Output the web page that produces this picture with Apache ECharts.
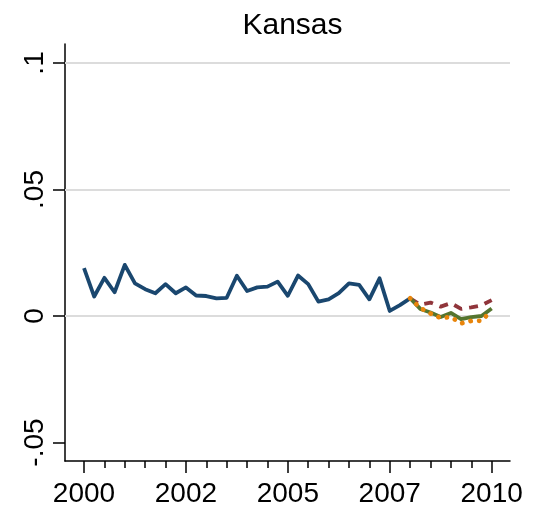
<!DOCTYPE html>
<html>
<head>
<meta charset="utf-8">
<script src="https://cdn.jsdelivr.net/npm/echarts@6/dist/echarts.min.js"></script>
<style>
  html, body { margin: 0; padding: 0; background: #fff; }
  #chart { width: 539px; height: 513px; }
</style>
</head>
<body>
<div id="chart"></div>
<script>
// Quarterly series for Kansas, 2000q1 .. 2010q1 (x = quarter index from 2000q1)
const observed = [
  0.0189, 0.0077, 0.0151, 0.0094, 0.0202, 0.0129, 0.0106, 0.0090,
  0.0126, 0.0090, 0.0113, 0.0081, 0.0079, 0.0070, 0.0072, 0.0159,
  0.0099, 0.0113, 0.0116, 0.0136, 0.0080, 0.0160, 0.0126, 0.0057,
  0.0066, 0.0090, 0.0129, 0.0123, 0.0066, 0.0149, 0.0020, 0.0043,
  0.0070
];
// Forecast paths start at the last observed quarter (index 32)
const forecastStart = 32;
const forecastDashed = [0.0070, 0.0045, 0.0053, 0.0037, 0.0051, 0.0028, 0.0034, 0.0042, 0.0063];
const forecastSolid  = [0.0070, 0.0028, 0.0014, -0.0004, 0.0012, -0.0012, -0.0004, 0.0000, 0.0030];
const forecastDotted = [0.0070, 0.0032, 0.0010, -0.0008, -0.0004, -0.0029, -0.0019, -0.0019, 0.0022];

// Axis ticks
const xMajorQuarters = [0, 10, 20, 30, 40];
const xMajorLabels = ['2000', '2002', '2005', '2007', '2010'];
const xMinorQuarters = [2, 4, 6, 8, 12, 14, 16, 18, 22, 24, 26, 28, 32, 34, 36, 38];
const yTicks = [-0.05, 0, 0.05, 0.1];
const yTickLabels = ['-.05', '0', '.05', '.1'];
const yGridLines = [0, 0.05, 0.1];

const toPairs = (vals, start) => vals.map((v, i) => [start + i, v]);

const FONT = 'Liberation Sans, Arial, Helvetica, sans-serif';
const chart = echarts.init(document.getElementById('chart'), null, { renderer: 'canvas' });

const xBase = {
  type: 'value',
  min: -1.865,
  max: 41.8,
  position: 'bottom',
  splitLine: { show: false }
};

chart.setOption({
  animation: false,
  backgroundColor: '#ffffff',
  title: {
    text: 'Kansas',
    left: 287.5,
    textAlign: 'center',
    top: 6,
    textStyle: { fontFamily: FONT, fontSize: 30, fontWeight: 'normal', color: '#000' }
  },
  grid: { left: 65, right: 29, top: 44, bottom: 52, containLabel: false },
  xAxis: [
    Object.assign({}, xBase, {
      axisLine: { show: true, onZero: false, lineStyle: { color: '#000', width: 1.5 } },
      axisTick: { show: true, customValues: xMajorQuarters, length: 12, lineStyle: { color: '#000', width: 1.5 } },
      axisLabel: {
        show: true,
        customValues: xMajorQuarters,
        formatter: v => xMajorLabels[xMajorQuarters.indexOf(Math.round(v))] || '',
        fontFamily: FONT, fontSize: 28, color: '#000', margin: 19
      }
    }),
    Object.assign({}, xBase, {
      axisLine: { show: false, onZero: false },
      axisTick: { show: true, customValues: xMinorQuarters, length: 7, lineStyle: { color: '#000', width: 1.5 } },
      axisLabel: { show: false }
    })
  ],
  yAxis: {
    type: 'value',
    min: -0.0573,
    max: 0.1075,
    axisLine: { show: true, onZero: false, lineStyle: { color: '#000', width: 1.5 } },
    axisTick: { show: true, customValues: yTicks, length: 12, lineStyle: { color: '#000', width: 1.5 } },
    axisLabel: {
      show: true,
      customValues: yTicks,
      rotate: 90,
      formatter: v => {
        const k = yTicks.findIndex(t => Math.abs(t - v) < 1e-9);
        return k >= 0 ? yTickLabels[k] : '';
      },
      fontFamily: FONT, fontSize: 28, color: '#000', margin: 16
    },
    splitLine: { show: false }
  },
  series: [
    {
      // horizontal reference grid
      type: 'line',
      data: [],
      silent: true,
      markLine: {
        silent: true,
        symbol: 'none',
        label: { show: false },
        lineStyle: { color: '#dcdcdc', width: 2, type: 'solid' },
        data: yGridLines.map(v => ({ yAxis: v }))
      },
      z: 1
    },
    {
      name: 'observed',
      type: 'line',
      data: toPairs(observed, 0),
      showSymbol: false,
      lineStyle: { color: '#1a476f', width: 3.8, join: 'round' },
      z: 3
    },
    {
      name: 'forecast (dashed)',
      type: 'line',
      data: toPairs(forecastDashed, forecastStart),
      showSymbol: false,
      lineStyle: { color: '#90353b', width: 3.8, type: [9, 7] },
      z: 4
    },
    {
      name: 'forecast (solid)',
      type: 'line',
      data: toPairs(forecastSolid, forecastStart),
      showSymbol: false,
      lineStyle: { color: '#55752f', width: 3.8, join: 'round' },
      z: 5
    },
    {
      name: 'forecast (dotted)',
      type: 'line',
      data: toPairs(forecastDotted, forecastStart),
      showSymbol: false,
      lineStyle: { color: '#e8850c', width: 4.8, type: [0.1, 8.5], cap: 'round' },
      z: 6
    }
  ]
});
</script>
</body>
</html>
